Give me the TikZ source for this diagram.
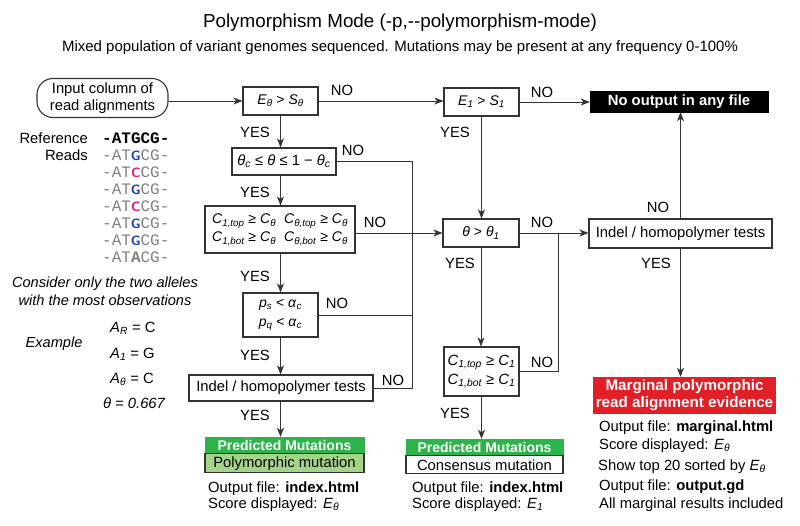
\documentclass[tikz,border=0pt]{standalone}
\usepackage{fontspec}
\setmainfont{Liberation Sans}
\setmonofont{Liberation Mono}
\usetikzlibrary{arrows.meta}
\definecolor{linec}{HTML}{333333}
\definecolor{pmgreen}{HTML}{2CB34A}
\definecolor{ltgreen}{HTML}{A3D48A}
\definecolor{mred}{HTML}{E31E26}
\definecolor{gblue}{HTML}{1F3FBF}
\definecolor{cmag}{HTML}{E3177D}
\definecolor{rgray}{HTML}{808080}
\newcommand\sbs[1]{\textsubscript{\itshape #1}}
\newcommand\iv[1]{\textit{#1}}
\newcommand\hl[2]{\makebox[9.6pt]{\fontsize{13.5}{16}\selectfont\sffamily\bfseries\color{#1}#2}}
\begin{document}
\begin{tikzpicture}[x=1pt,y=-1pt,
  every node/.style={font=\fontsize{14.8}{17}\selectfont, inner sep=0pt},
  box/.style={draw=linec, line width=1.1pt, fill=white, align=center},
  mbox/.style={box, font=\fontsize{14}{17}\selectfont},
  lbl/.style={font=\fontsize{14.8}{17}\selectfont},
  txt/.style={anchor=base west},
  mono/.style={anchor=base west, font=\fontsize{16}{16}\selectfont\ttfamily, text=rgray},
  arr/.style={draw=linec, line width=1pt, -{Stealth[length=9pt,width=7pt,inset=2.5pt]}},
  ln/.style={draw=linec, line width=1pt},
  ]
\useasboundingbox (0,0) rectangle (800,525);
% title
\node[font=\fontsize{18.8}{22}\selectfont, anchor=base] (title) at (400,27) {Polymorphism Mode (-p,-{}-polymorphism-mode)};
\node[font=\fontsize{15}{18}\selectfont, anchor=base] (sub) at (400,51) {Mixed population of variant genomes sequenced. Mutations may be present at any frequency 0-100\%};
% left column boxes
\node[box, rounded corners=16pt, minimum width=131pt, minimum height=39pt] (inp) at (102.5,98) {Input column of\\read alignments};
\node[mbox, minimum width=75pt, minimum height=28pt] (e0) at (280.5,101) {\iv{E}\sbs{θ} > \iv{S}\sbs{θ}};
\node[mbox, minimum width=104pt, minimum height=27pt, font=\fontsize{14.8}{17}\selectfont] (thc) at (284,161.5) {\iv{θ}\sbs{c} ≤ \iv{θ} ≤ 1 − \iv{θ}\sbs{c}};
\node[mbox, minimum width=150pt, minimum height=47pt] (cbox) at (280,229.5) {\begin{tabular}{@{}l@{\hspace{8pt}}l@{}}\iv{C}\sbs{1,top} ≥ \iv{C}\sbs{θ} & \iv{C}\sbs{θ,top} ≥ \iv{C}\sbs{θ}\\[1pt] \iv{C}\sbs{1,bot} ≥ \iv{C}\sbs{θ} & \iv{C}\sbs{θ,bot} ≥ \iv{C}\sbs{θ}\end{tabular}};
\node[mbox, minimum width=75pt, minimum height=44pt] (pbox) at (280.5,315) {\iv{p}\sbs{s} < \iv{α}\sbs{c}\\[2pt]\iv{p}\sbs{q} < \iv{α}\sbs{c}};
\node[box, minimum width=184pt, minimum height=26pt] (ind1) at (281,388) {Indel / homopolymer tests};
\node[draw=pmgreen, fill=pmgreen, minimum width=159pt, minimum height=16pt, text=white, font=\fontsize{14}{16}\selectfont\bfseries] (pm1) at (284.5,445) {Predicted Mutations};
\node[box, fill=ltgreen, minimum width=159pt, minimum height=19pt, anchor=north] (pol1) at (pm1.south) {Polymorphic mutation};
% middle column
\node[mbox, minimum width=75pt, minimum height=28pt] (e1) at (481.5,102) {\iv{E}\sbs{1} > \iv{S}\sbs{1}};
\node[mbox, minimum width=76pt, minimum height=28pt] (th1) at (481,233) {\iv{θ} > \iv{θ}\sbs{1}};
\node[mbox, minimum width=75pt, minimum height=49pt, font=\fontsize{14.8}{17}\selectfont] (c1) at (481.5,371.5) {\iv{C}\sbs{1,top} ≥ \iv{C}\sbs{1}\\[2pt]\iv{C}\sbs{1,bot} ≥ \iv{C}\sbs{1}};
\node[draw=pmgreen, fill=pmgreen, minimum width=157pt, minimum height=16pt, text=white, font=\fontsize{14}{16}\selectfont\bfseries] (pm2) at (484.5,447) {Predicted Mutations};
\node[box, minimum width=157pt, minimum height=18pt, anchor=north] (con2) at (pm2.south) {Consensus mutation};
% right column
\node[draw=black, fill=black, minimum width=178pt, minimum height=21pt, text=white, font=\fontsize{14.8}{17}\selectfont\bfseries] (noout) at (679,101.5) {No output in any file};
\node[box, minimum width=183pt, minimum height=29pt] (ind2) at (680.5,233.5) {Indel / homopolymer tests};
\node[fill=mred, minimum width=183pt, minimum height=37pt, text=white, align=center, font=\fontsize{15.2}{17}\selectfont\bfseries] (red) at (684.5,395.5) {Marginal polymorphic\\read alignment evidence};
% junction coordinates
\coordinate (j) at (412,0);
\coordinate (k) at (558,0);
% connectors
\draw[arr] (inp.east |- e0.west) -- (e0.west);
\draw[arr] (e0.south) -- (e0.south |- thc.north);
\draw[arr] (e0.south |- thc.south) -- (e0.south |- cbox.north);
\draw[arr] (e0.south |- cbox.south) -- (e0.south |- pbox.north);
\draw[arr] (e0.south |- pbox.south) -- (e0.south |- ind1.north);
\draw[arr] (e0.south |- ind1.south) -- (e0.south |- pm1.north);
\draw[arr] (e0.east) -- (e0.east -| e1.west);
\draw[ln] (thc.east) -| (j |- ind1.east) -- (ind1.east);
\draw[arr] (cbox.east |- th1.west) -- (th1.west);
\draw[ln] (pbox.east) -- (pbox.east -| j);
\draw[arr] (e1.east) -- (e1.east -| noout.west);
\draw[arr] (e1.south) -- (e1.south |- th1.north);
\draw[arr] (th1.east) -- (th1.east -| ind2.west);
\draw[ln] (c1.east) -| (k |- th1.east);
\draw[arr] (th1.south) -- (th1.south |- c1.north);
\draw[arr] (c1.south) -- (c1.south |- pm2.north);
\draw[arr] (ind2.north) -- (ind2.north |- noout.south);
\draw[arr] (ind2.south) -- (ind2.south |- red.north);
% YES / NO labels
\node[lbl] (y1) at (255,132) {YES};
\node[lbl] (y2) at (255,192) {YES};
\node[lbl] (y3) at (255,276) {YES};
\node[lbl] (y4) at (255,355) {YES};
\node[lbl] (y5) at (255,415) {YES};
\node[lbl] (n1) at (342,90) {NO};
\node[lbl] (n2) at (353,150) {NO};
\node[lbl] (n3) at (375,222) {NO};
\node[lbl] (n4) at (337,303) {NO};
\node[lbl] (n5) at (393,380) {NO};
\node[lbl] (n6) at (542,92) {NO};
\node[lbl] (y6) at (455,132) {YES};
\node[lbl] (n7) at (542,222) {NO};
\node[lbl] (y7) at (460,263) {YES};
\node[lbl] (n8) at (542,362) {NO};
\node[lbl] (y8) at (455,413) {YES};
\node[lbl] (n9) at (658,207) {NO};
\node[lbl] (y9) at (656,263) {YES};
% output texts
\node[txt] (o1a) at (208,492) {Output file: \textbf{index.html}};
\node[txt] (o1b) at (208,508) {Score displayed: \iv{E}\sbs{θ}};
\node[txt] (o2a) at (412,492) {Output file: \textbf{index.html}};
\node[txt] (o2b) at (412,508) {Score displayed: \iv{E}\sbs{1}};
\node[txt] (o3a) at (599,431) {Output file: \textbf{marginal.html}};
\node[txt] (o3b) at (599,449) {Score displayed: \iv{E}\sbs{θ}};
\node[txt] (o3c) at (598,470) {Show top 20 sorted by \iv{E}\sbs{θ}};
\node[txt] (o3d) at (599,490) {Output file: \textbf{output.gd}};
\node[txt] (o3e) at (599,508) {All marginal results included};
% left annotations
\node[anchor=base east] (refl) at (88,143) {Reference};
\node[anchor=base east] (readl) at (88,160) {Reads};
\node[mono, text=black, font=\fontsize{16}{16}\selectfont\ttfamily\bfseries] (r0) at (102,143) {-ATGCG-};
\node[mono] (r1) at (102,160) {-AT\hl{gblue}{G}CG-};
\node[mono] (r2) at (102,177) {-AT\hl{cmag}{C}CG-};
\node[mono] (r3) at (102,194) {-AT\hl{gblue}{G}CG-};
\node[mono] (r4) at (102,211) {-AT\hl{cmag}{C}CG-};
\node[mono] (r5) at (102,228) {-AT\hl{gblue}{G}CG-};
\node[mono] (r6) at (102,245) {-AT\hl{gblue}{G}CG-};
\node[mono] (r7) at (102,262) {-AT\textbf{A}CG-};
\node[anchor=base, font=\fontsize{14.6}{17}\selectfont\itshape] (cons1) at (105,287) {Consider only the two alleles};
\node[anchor=base, font=\fontsize{14.6}{17}\selectfont\itshape] (cons2) at (105,305) {with the most observations};
\node[anchor=base, font=\fontsize{14.6}{17}\selectfont\itshape] (ex) at (54,347) {Example};
\node[txt] (ar) at (110,332) {\iv{A}\sbs{R} = C};
\node[txt] (a1) at (110,358) {\iv{A}\sbs{1} = G};
\node[txt] (a0) at (110,383) {\iv{A}\sbs{θ} = C};
\node[anchor=base, font=\fontsize{14.8}{17}\selectfont\itshape] (th) at (134,408) {θ = 0.667};
\end{tikzpicture}
\end{document}
